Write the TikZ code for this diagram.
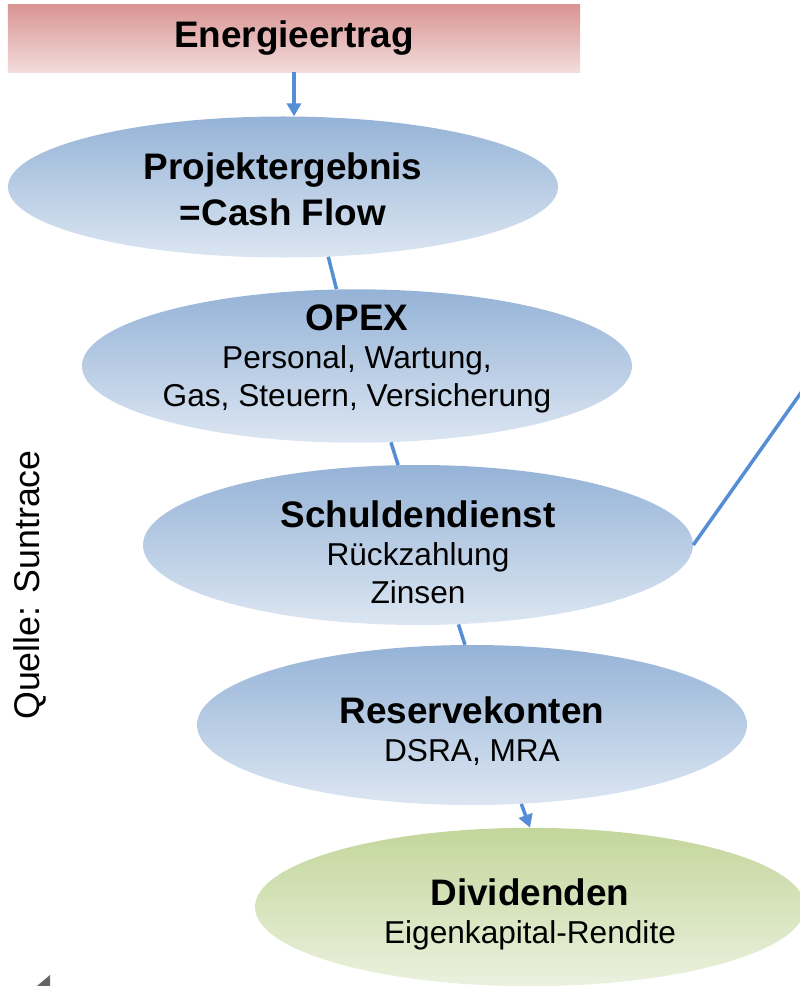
\documentclass[tikz,border=0pt]{standalone}
\usepackage{fontspec}
\setmainfont{Liberation Sans}
\usetikzlibrary{shapes.geometric,arrows.meta}
\definecolor{ertragOben}{HTML}{D99594}
\definecolor{ertragUnten}{HTML}{F2DCDB}
\definecolor{blauOben}{HTML}{95B3D7}
\definecolor{blauUnten}{HTML}{DCE6F2}
\definecolor{gruenOben}{HTML}{C3D69B}
\definecolor{gruenUnten}{HTML}{EBF1DE}
\definecolor{linie}{HTML}{558ED5}
\newcommand{\titel}[1]{{\fontsize{31.5}{33}\selectfont\bfseries #1}}
\tikzset{
	stufe/.style={ellipse, inner sep=0pt, minimum width=16.5cm,
		top color=blauOben, bottom color=blauUnten},
	inhalt/.style={align=center, inner sep=0pt, font=\fontsize{27}{32.5}\selectfont},
	fluss/.style={draw=linie, line width=3pt},
	pfeil/.style={fluss, -{Triangle[width=12pt,length=11pt]}},
}

\begin{document}
\begin{tikzpicture}[x=0.03cm, y=-0.03cm]
	%%%%% START %%%%%
	\useasboundingbox (0, 0) rectangle (799, 986);
	
	\node[minimum width=17.16cm, minimum height=2.01cm, inner sep=0pt,
		top color=ertragOben, middle color=ertragUnten, bottom color=ertragUnten] (ertrag) at (294, 38.5) {\titel{Energieertrag}};
	
	\node[stufe, minimum height=4.23cm,
		label={[inhalt, yshift=-2pt]center:\titel{Projektergebnis}\\[7pt]\titel{=Cash Flow}}] (projekt) at (283, 187) {};
	\node[stufe, minimum height=4.6cm,
		label={[inhalt, yshift=6pt]center:\titel{OPEX}\\Personal, Wartung,\\Gas, Steuern, Versicherung}] (opex) at (357, 366) {};
	\node[stufe, minimum height=4.8cm,
		label={[inhalt, yshift=-6.4pt]center:\titel{Schuldendienst}\\R\"uckzahlung\\Zinsen}] (schulden) at (418, 545) {};
	\node[stufe, minimum height=4.8cm,
		label={[inhalt, yshift=-5.5pt]center:\titel{Reservekonten}\\DSRA, MRA}] (reserve) at (472, 725) {};
	\node[stufe, minimum height=4.75cm, top color=gruenOben, bottom color=gruenUnten,
		label={[inhalt, yshift=-6pt]center:\titel{Dividenden}\\Eigenkapital-Rendite}] (dividende) at (530, 907) {};
	
	\node[rotate=90, font=\fontsize{30.5}{32}\selectfont] (quelle) at (30, 585) {Quelle: Suntrace};
	
	\coordinate (rechts) at (805, 387);
	
	\draw[pfeil] (ertrag.south) -- (ertrag.south |- projekt.north);
	\draw[fluss] (projekt.-57.6) -- (opex.105.3);
	\draw[fluss] (opex.-66.8) -- (schulden.104);
	\draw[fluss] (schulden.east) -- (rechts);
	\draw[fluss] (schulden.-63.4) -- (reserve.95);
	\draw[pfeil] (reserve.-58) -- (dividende.north);
	
	\fill[black!60] (37, 986) -- (50, 975) -- (50, 986) -- cycle;
	%%%%% END %%%%%
\end{tikzpicture}
\end{document}
